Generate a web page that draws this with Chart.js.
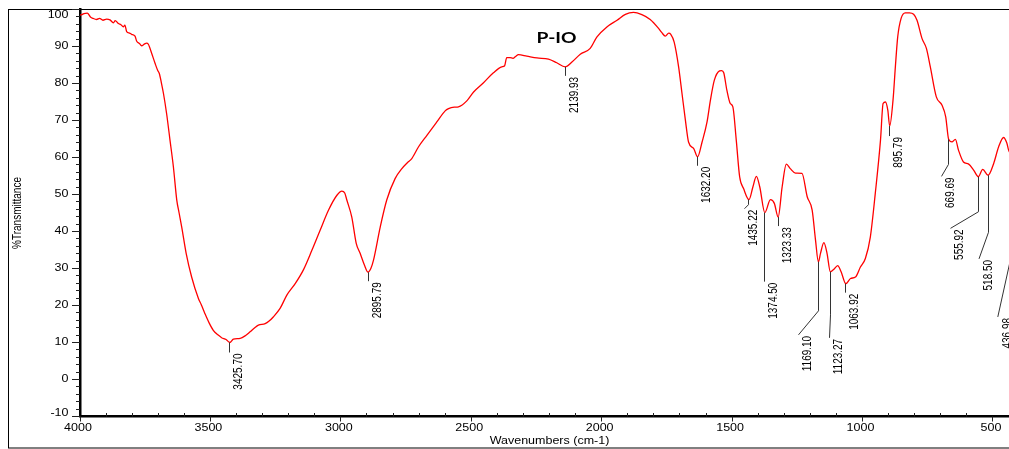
<!DOCTYPE html>
<html>
<head>
<meta charset="utf-8">
<title>P-IO</title>
<script src="https://cdn.jsdelivr.net/npm/chart.js@4.4.1/dist/chart.umd.min.js"></script>
<style>
    html, body { margin: 0; padding: 0; background: #fff; overflow: hidden; }
    #wrap { width: 1030px; height: 449px; }
</style>
</head>
<body>
<div id="wrap"><canvas id="ftir" width="1030" height="449"></canvas></div>
<script>
// FTIR spectrum of P-IO, wavenumber (cm-1) vs %T
const wavenumbers = [
    4000, 3993, 3985, 3972, 3960, 3950, 3936, 3925, 3912, 3898,
    3885, 3872, 3865, 3853, 3843, 3834, 3828, 3821, 3810, 3802,
    3789, 3783, 3772, 3764, 3752, 3745, 3738, 3725, 3712, 3702,
    3696, 3688, 3680, 3668, 3655, 3642, 3629, 3620, 3610, 3593,
    3572, 3546, 3535, 3521, 3505, 3489, 3470, 3457, 3440, 3425.70,
    3412, 3386, 3365, 3348, 3330, 3316, 3290, 3275, 3259, 3233,
    3207, 3175, 3143, 3111, 3079, 3047, 3015, 2996, 2985, 2977,
    2958, 2941, 2926, 2910, 2895.79, 2885, 2875, 2849, 2824, 2792,
    2766, 2745, 2728, 2702, 2670, 2632, 2600, 2587, 2565, 2549,
    2517, 2491, 2453, 2415, 2383, 2372, 2364, 2351, 2340, 2330,
    2319, 2287, 2248, 2204, 2172, 2139.93, 2114, 2082, 2044, 2018,
    1980, 1941, 1909, 1878, 1846, 1814, 1782, 1770, 1756, 1743,
    1735, 1722, 1705, 1692, 1679, 1667, 1647, 1632.20, 1615, 1596,
    1583, 1568, 1548, 1540, 1532, 1520, 1507, 1497, 1484, 1471,
    1456, 1435.22, 1420, 1407, 1394, 1374.50, 1353, 1338, 1323.33, 1308,
    1292, 1277, 1257, 1232, 1212, 1193, 1180, 1169.10, 1161, 1148,
    1136, 1123.27, 1111, 1095, 1082, 1063.92, 1046, 1027, 1008, 989,
    970, 951, 931, 921, 912, 903, 895.79, 883, 874, 865,
    852, 836, 820, 804, 791, 772, 755, 740, 717, 695,
    681, 669.69, 657, 644, 632, 613, 593, 574, 555.92, 539,
    518.50, 497, 478, 459, 447, 436.98, 420, 400
];

const transmittance = [
    98.5, 98.6, 98.9, 99.0, 98.0, 97.6, 97.3, 97.6, 97.1, 97.4,
    97.2, 96.4, 97.0, 96.2, 95.9, 95.3, 95.8, 94.0, 93.6, 93.3,
    92.8, 91.5, 90.8, 90.2, 90.7, 90.9, 90.6, 88.1, 85.4, 83.5,
    82.7, 80.2, 77.3, 71.9, 64.7, 57.5, 48.5, 45.0, 41.2, 34.1,
    27.7, 21.9, 20.2, 17.8, 15.3, 13.3, 12.0, 11.3, 10.8, 10.0,
    10.9, 11.1, 11.9, 12.9, 14.0, 14.7, 15.1, 15.8, 16.9, 19.2,
    22.8, 25.9, 29.7, 34.9, 40.4, 45.8, 49.8, 50.9, 50.4, 48.5,
    43.9, 36.8, 34.1, 31.0, 29.0, 30.0, 32.2, 41.2, 48.5, 54.3,
    57.0, 58.6, 59.7, 62.9, 66.0, 69.6, 72.6, 73.2, 73.6, 73.7,
    75.3, 77.7, 80.2, 82.9, 84.5, 84.8, 87.0, 87.0, 86.8, 87.3,
    87.8, 87.4, 86.9, 86.6, 85.6, 84.5, 85.8, 87.9, 89.5, 92.6,
    95.3, 97.1, 98.7, 99.2, 98.6, 97.3, 94.9, 93.8, 92.8, 93.6,
    93.3, 91.2, 84.5, 77.3, 70.1, 64.2, 62.4, 60.2, 64.2, 69.6,
    75.5, 80.9, 83.4, 83.5, 82.9, 78.2, 74.6, 73.7, 64.7, 54.8,
    51.6, 48.6, 52.1, 54.9, 52.1, 45.1, 48.6, 47.6, 43.9, 52.1,
    58.2, 57.0, 55.8, 55.7, 49.4, 45.8, 37.6, 31.8, 34.1, 37.0,
    34.1, 29.1, 29.7, 30.8, 29.1, 25.9, 27.3, 27.7, 30.4, 32.7,
    38.5, 50.3, 64.7, 74.6, 75.0, 72.8, 68.5, 75.5, 84.5, 92.6,
    97.6, 99.1, 99.1, 98.7, 97.1, 92.2, 89.5, 84.5, 76.4, 74.1,
    71.0, 64.9, 64.2, 64.9, 62.0, 58.8, 58.2, 56.6, 54.8, 56.8,
    55.2, 58.4, 62.9, 65.4, 64.0, 61.5, 63.5, 66.0
];

// picked peaks, each one is also a point of the spectrum above
const peakWavenumbers = [
    3425.70, 2895.79, 2139.93, 1632.20, 1435.22, 1374.50, 1323.33,
    1169.10, 1123.27, 1063.92, 895.79, 669.69, 555.92, 518.50, 436.98
];

const xTickLabels = [4000, 3500, 3000, 2500, 2000, 1500, 1000, 500];
const yTickLabels = [100, 90, 80, 70, 60, 50, 40, 30, 20, 10, 0, -10];

const sampleName  = 'P-IO';
const xAxisTitle  = 'Wavenumbers (cm-1)';
const yAxisTitle  = '%Transmittance';

// leader line per peak: [vertical drop, sideways shift, extra drop] in px
const leaderOffsets = [
    [10, 0, 0], [9, 0, 0], [9, 0, 0], [9, 0, 0], [5, -4, 4],
    [69, 0, 0], [9, 0, 0], [49, -20, 24], [43, -1, 23], [9, 0, 0],
    [10, 0, 0], [25, -7, 12], [35, -28, 16.6], [57, -9.5, 26.6], [112, -11.7, 53]
];

const SMALL_FONT = "10px 'Liberation Sans', Arial, Helvetica, sans-serif";
const TITLE_FONT = "bold 16px Lato, 'Open Sans', sans-serif";

/**
 * Draws text widened along the screen x direction.
 * For vertical text the glyphs read bottom to top.
 */
function stretchedText(ctx, text, x, y, opts) {
    ctx.save();
    ctx.translate(x, y);
    if (opts.vertical) {
        ctx.rotate(-Math.PI / 2);
        ctx.scale(1, opts.sx);
    } else {
        ctx.scale(opts.sx, 1);
    }
    ctx.font         = opts.font;
    ctx.textAlign    = opts.align || 'center';
    ctx.textBaseline = opts.baseline || 'middle';
    ctx.fillStyle    = '#000';
    ctx.fillText(text, 0, opts.dy || 0);
    ctx.restore();
}

const spectrumDecor = {
    id: 'spectrumDecor',
    afterDraw(chart) {
        const { ctx, chartArea: area } = chart;
        const xs = chart.scales.x;
        const ys = chart.scales.y;

        ctx.save();

        // outer frame
        ctx.strokeStyle = '#000';
        ctx.lineWidth = 1;
        ctx.strokeRect(8.5, 9.5, chart.width, 438.5);

        // y ticks, long every 10, short every 2
        ctx.strokeStyle = '#222';
        ctx.beginPath();
        for (let v = -10; v <= 100; v += 2) {
            const py  = Math.floor(ys.getPixelForValue(v)) + 0.5;
            const len = v % 10 === 0 ? 8 : 4;
            ctx.moveTo(area.left, py);
            ctx.lineTo(area.left - len, py);
        }
        // x ticks, major ones hang below the axis, minor ones point up
        for (let v = 400; v <= 4000; v += 100) {
            const px = Math.floor(xs.getPixelForValue(v)) + 0.5;
            if (v % 500 === 0) {
                ctx.moveTo(px, area.bottom);
                ctx.lineTo(px, area.bottom + 5);
            } else {
                ctx.moveTo(px, area.bottom);
                ctx.lineTo(px, area.bottom - 3.5);
            }
        }
        ctx.stroke();

        // tick labels
        yTickLabels.forEach(v => {
            let py = ys.getPixelForValue(v);
            py = Math.min(Math.max(py, area.top + 6), area.bottom - 3.5);
            stretchedText(ctx, String(v), 68.5, py, { font: SMALL_FONT, sx: 1.25, align: 'right' });
        });
        xTickLabels.forEach(v => {
            stretchedText(ctx, String(v), xs.getPixelForValue(v) - 2, 428.5, { font: SMALL_FONT, sx: 1.25 });
        });

        // axis titles and sample name
        stretchedText(ctx, xAxisTitle, (area.left + area.right) / 2, 441.5, { font: SMALL_FONT, sx: 1.25 });
        stretchedText(ctx, yAxisTitle, 18, (area.top + area.bottom) / 2, { font: SMALL_FONT, sx: 1.25, vertical: true });
        stretchedText(ctx, sampleName, 556.5, 37.5, { font: TITLE_FONT, sx: 1.2 });

        // peak markers with their wavenumber labels
        ctx.strokeStyle = '#333';
        ctx.lineWidth = 1;
        peakWavenumbers.forEach((wn, i) => {
            const t  = transmittance[wavenumbers.indexOf(wn)];
            const px = Math.floor(xs.getPixelForValue(wn)) + 0.5;
            const py = ys.getPixelForValue(t);
            const [drop, dx, dy] = leaderOffsets[i];
            const endX = px + dx;
            const endY = py + drop + dy;

            ctx.beginPath();
            ctx.moveTo(px, py);
            ctx.lineTo(px, py + drop);
            ctx.lineTo(endX, endY);
            ctx.stroke();

            stretchedText(ctx, wn.toFixed(2), endX, endY + 1, {
                font: SMALL_FONT, sx: 1.3, vertical: true,
                align: 'right', baseline: 'alphabetic', dy: 9.9
            });
        });

        ctx.restore();
    }
};

new Chart(document.getElementById('ftir'), {
    type: 'line',
    data: {
        datasets: [{
            label: sampleName,
            data: wavenumbers.map((w, i) => ({ x: w, y: transmittance[i] })),
            borderColor: '#ff0000',
            borderWidth: 1.3,
            pointRadius: 0,
            fill: false,
            cubicInterpolationMode: 'monotone',
        }],
    },
    options: {
        responsive: false,
        animation: false,
        layout: { padding: { top: 9.5, left: 8, right: 11, bottom: 0 } },
        plugins: {
            legend:  { display: false },
            tooltip: { enabled: false },
        },
        scales: {
            x: {
                type: 'linear',
                reverse: true,
                min: 400,
                max: 4000,
                grid:   { display: false },
                border: { display: true, width: 2.5, color: '#000' },
                ticks:  { display: false },
                afterFit(scale) { scale.height = 32.5; },
            },
            y: {
                min: -10,
                max: 100,
                grid:   { display: false },
                border: { display: true, width: 2.5, color: '#000' },
                ticks:  { display: false },
                afterFit(scale) { scale.width = 72; },
            },
        },
    },
    plugins: [spectrumDecor],
});
</script>
</body>
</html>
